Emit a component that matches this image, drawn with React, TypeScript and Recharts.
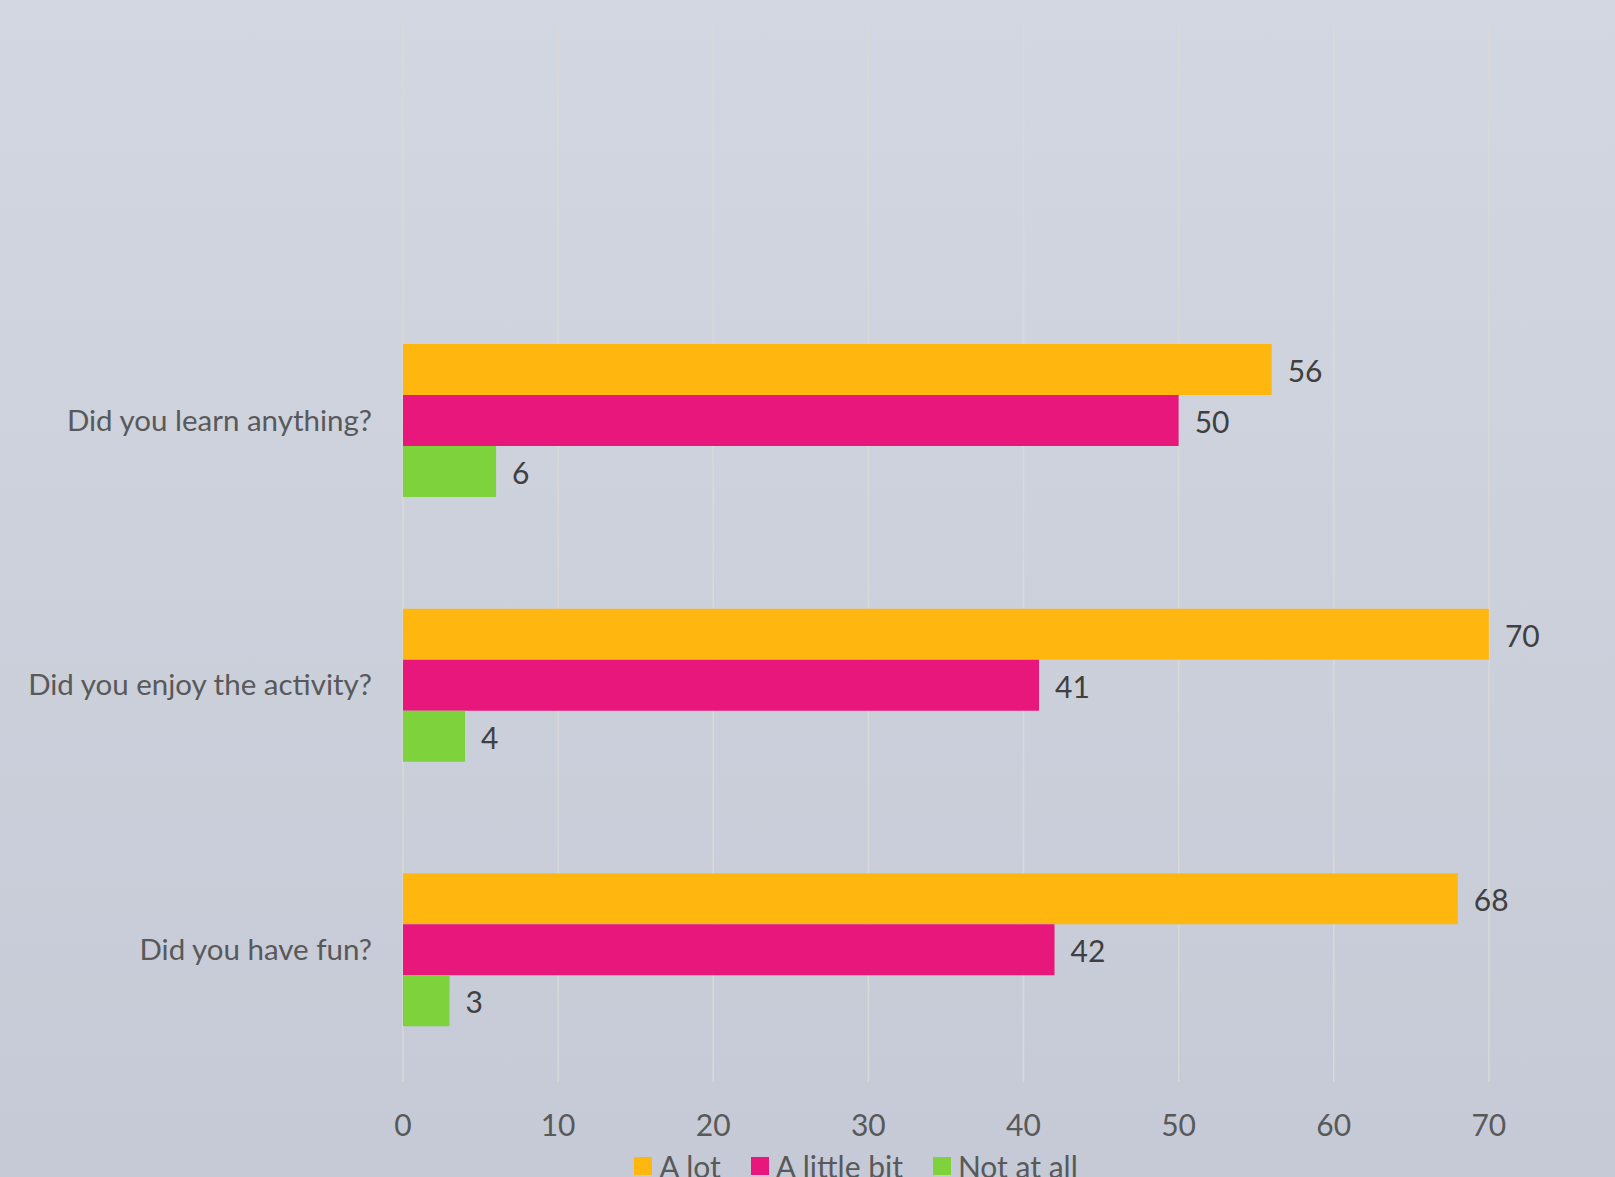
import React from 'react';
import { BarChart, Bar, XAxis, YAxis, CartesianGrid, Legend, LabelList } from 'recharts';

const categories = ['Did you learn anything?', 'Did you enjoy the activity?', 'Did you have fun?'];
const aLot = [56, 70, 68];
const aLittleBit = [50, 41, 42];
const notAtAll = [6, 4, 3];
const xTicks = [0, 10, 20, 30, 40, 50, 60, 70, 80];

const seriesNames = ['A lot', 'A little bit', 'Not at all'];
const seriesColors = ['#FFB70F', '#E8177B', '#7ED23B'];

const data = categories.map((c, i) => ({
  name: c,
  aLot: aLot[i],
  aLittleBit: aLittleBit[i],
  notAtAll: notAtAll[i],
}));

const FONT = 'Lato, "Open Sans", sans-serif';

const renderLegend = () => (
  <div style={{ width: 1632, paddingLeft: 40, display: 'flex', justifyContent: 'center', alignItems: 'center', fontFamily: FONT, fontSize: 30, color: '#595959', lineHeight: '30px' }}>
    {seriesNames.map((n, i) => (
      <div key={n} style={{ display: 'flex', alignItems: 'center', marginRight: i < seriesNames.length - 1 ? 30 : 0 }}>
        <div style={{ width: 18, height: 18, background: seriesColors[i], marginRight: 7 }} />
        <span>{n}</span>
      </div>
    ))}
  </div>
);

export default function App() {
  return (
    <div
      style={{
        position: 'absolute',
        left: 0,
        top: 0,
        width: 1615,
        height: 1177,
        overflow: 'hidden',
        background: 'linear-gradient(to bottom, #d3d7e1 0%, #c5cad6 100%)',
      }}
    >
      <BarChart
        width={1672}
        height={1200}
        data={data}
        layout="vertical"
        margin={{ top: 23, right: 28, bottom: 0, left: 0 }}
        barGap={0}
      >
        <CartesianGrid horizontal={false} vertical stroke="#d9d9d9" strokeWidth={1.5} />
        <XAxis
          type="number"
          domain={[0, 80]}
          ticks={xTicks}
          interval={0}
          height={118}
          axisLine={false}
          tickLine={false}
          tickSize={6}
          tickMargin={27}
          tick={{ fill: '#595959', fontSize: 30, fontFamily: FONT }}
        />
        <YAxis
          type="category"
          dataKey="name"
          width={403}
          padding={{ top: 265, bottom: 0 }}
          axisLine={false}
          tickLine={false}
          tickSize={6}
          tickMargin={25}
          tick={{ fill: '#595959', fontSize: 29.5, fontFamily: FONT }}
        />
        <Legend verticalAlign="middle" align="center" wrapperStyle={{ top: 1151, left: 0, width: 1672 }} content={renderLegend} />
        <Bar dataKey="aLot" name={seriesNames[0]} fill={seriesColors[0]} barSize={51} isAnimationActive={false}>
          <LabelList dataKey="aLot" position="right" offset={16} dy={2} fill="#404040" fontSize={30} fontFamily={FONT} />
        </Bar>
        <Bar dataKey="aLittleBit" name={seriesNames[1]} fill={seriesColors[1]} barSize={51} isAnimationActive={false}>
          <LabelList dataKey="aLittleBit" position="right" offset={16} dy={2} fill="#404040" fontSize={30} fontFamily={FONT} />
        </Bar>
        <Bar dataKey="notAtAll" name={seriesNames[2]} fill={seriesColors[2]} barSize={51} isAnimationActive={false}>
          <LabelList dataKey="notAtAll" position="right" offset={16} dy={2} fill="#404040" fontSize={30} fontFamily={FONT} />
        </Bar>
      </BarChart>
    </div>
  );
}
